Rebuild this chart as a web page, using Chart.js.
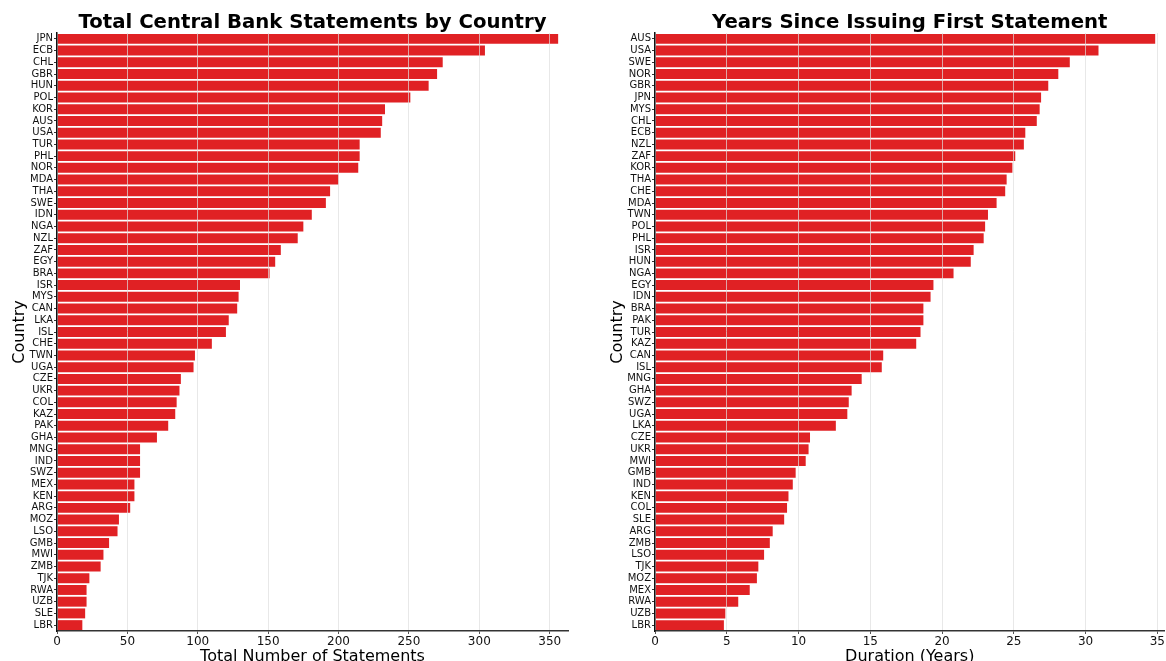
<!DOCTYPE html>
<html>
<head>
<meta charset="utf-8">
<script src="https://cdn.jsdelivr.net/npm/chart.js@4/dist/chart.umd.min.js"></script>
<style>
  html, body { margin: 0; padding: 0; background: #fff; overflow: hidden; }
  body { width: 1166px; height: 661px; position: relative; }
  canvas { position: absolute; top: 0; }
  #countChart { left: 0; }
  #yearsChart { left: 598px; }
</style>
</head>
<body>
<canvas id="countChart" width="583" height="666"></canvas>
<canvas id="yearsChart" width="568" height="666"></canvas>
<script>
// Statements per central bank, sorted high to low
const countCountries = ['JPN', 'ECB', 'CHL', 'GBR', 'HUN', 'POL', 'KOR', 'AUS', 'USA', 'TUR', 'PHL', 'NOR', 'MDA',
    'THA', 'SWE', 'IDN', 'NGA', 'NZL', 'ZAF', 'EGY', 'BRA', 'ISR', 'MYS', 'CAN', 'LKA', 'ISL', 'CHE', 'TWN', 'UGA',
    'CZE', 'UKR', 'COL', 'KAZ', 'PAK', 'GHA', 'MNG', 'IND', 'SWZ', 'MEX', 'KEN', 'ARG', 'MOZ', 'LSO', 'GMB', 'MWI',
    'ZMB', 'TJK', 'RWA', 'UZB', 'SLE', 'LBR'];
const statementCounts = [356, 304, 274, 270, 264, 251, 233, 231, 230, 215, 215, 214, 200,
    194, 191, 181, 175, 171, 159, 155, 151, 130, 129, 128, 122, 120, 110, 98, 97,
    88, 87, 85, 84, 79, 71, 59, 59, 59, 55, 55, 52, 44, 43, 37, 33,
    31, 23, 21, 21, 20, 18];

// Years since each bank issued its first statement
const yearsCountries = ['AUS', 'USA', 'SWE', 'NOR', 'GBR', 'JPN', 'MYS', 'CHL', 'ECB', 'NZL', 'ZAF', 'KOR', 'THA',
    'CHE', 'MDA', 'TWN', 'POL', 'PHL', 'ISR', 'HUN', 'NGA', 'EGY', 'IDN', 'BRA', 'PAK', 'TUR', 'KAZ', 'CAN', 'ISL',
    'MNG', 'GHA', 'SWZ', 'UGA', 'LKA', 'CZE', 'UKR', 'MWI', 'GMB', 'IND', 'KEN', 'COL', 'SLE', 'ARG', 'ZMB', 'LSO',
    'TJK', 'MOZ', 'MEX', 'RWA', 'UZB', 'LBR'];
const yearsSinceFirst = [34.85, 30.9, 28.9, 28.1, 27.4, 26.9, 26.8, 26.6, 25.8, 25.7, 25.1, 24.9, 24.5,
    24.4, 23.8, 23.2, 23.0, 22.9, 22.2, 22.0, 20.8, 19.4, 19.2, 18.7, 18.7, 18.5, 18.2, 15.9, 15.8,
    14.4, 13.7, 13.5, 13.4, 12.6, 10.8, 10.7, 10.5, 9.8, 9.6, 9.3, 9.2, 9.0, 8.2, 8.0, 7.6,
    7.2, 7.1, 6.6, 5.8, 4.9, 4.8];

const barColor = '#e02124';
const fontFamily = '"DejaVu Sans", sans-serif';

function makeChart(canvasId, labels, values, title, xTitle, xMax, xStep, rightPad) {
    const ctx = document.getElementById(canvasId).getContext('2d');
    return new Chart(ctx, {
        type: 'bar',
        data: {
            labels: labels,
            datasets: [{
                data: values,
                backgroundColor: barColor,
                borderWidth: 0,
                barPercentage: 0.85,
                categoryPercentage: 1.0
            }]
        },
        options: {
            indexAxis: 'y',
            responsive: false,
            animation: false,
            layout: { padding: { left: 0, right: rightPad, top: 0, bottom: 0 } },
            plugins: {
                legend: { display: false },
                tooltip: { enabled: false },
                title: {
                    display: true,
                    fullSize: false, // centre over the plot area only
                    text: title,
                    color: '#000',
                    font: { family: fontFamily, size: 19.7, weight: 'bold', lineHeight: 1.0 },
                    padding: { top: 13.3, bottom: 0 }
                }
            },
            scales: {
                x: {
                    min: 0,
                    max: xMax,
                    afterFit: scale => { scale.height = 35; },
                    grid: {
                        z: 1, // grid lines sit on top of the bars
                        color: 'rgba(222, 222, 222, 0.7)',
                        lineWidth: 1,
                        tickLength: 3,
                        tickColor: '#555'
                    },
                    border: { color: '#333', width: 1.5, z: 2 },
                    ticks: {
                        stepSize: xStep,
                        includeBounds: false,
                        padding: 1,
                        maxRotation: 0,
                        color: '#111',
                        font: { family: fontFamily, size: 12 }
                    },
                    title: {
                        display: true,
                        text: xTitle,
                        color: '#000',
                        font: { family: fontFamily, size: 16 },
                        padding: { top: 0, bottom: 0 }
                    }
                },
                y: {
                    afterFit: scale => { scale.width = 57; },
                    grid: {
                        display: true,
                        offset: false,
                        drawOnChartArea: false,
                        tickLength: 3,
                        tickColor: '#333'
                    },
                    border: { color: '#111', width: 1.5, z: 2 },
                    ticks: {
                        autoSkip: false,
                        padding: 1,
                        color: '#111',
                        font: { family: fontFamily, size: 10 }
                    },
                    title: {
                        display: true,
                        text: 'Country',
                        color: '#000',
                        font: { family: fontFamily, size: 16 },
                        padding: { top: 10, bottom: 0 }
                    }
                }
            }
        }
    });
}

makeChart('countChart', countCountries, statementCounts,
    'Total Central Bank Statements by Country', 'Total Number of Statements', 363, 50, 15);
makeChart('yearsChart', yearsCountries, yearsSinceFirst,
    'Years Since Issuing First Statement', 'Duration (Years)', 35.5, 5, 1);
</script>
</body>
</html>
